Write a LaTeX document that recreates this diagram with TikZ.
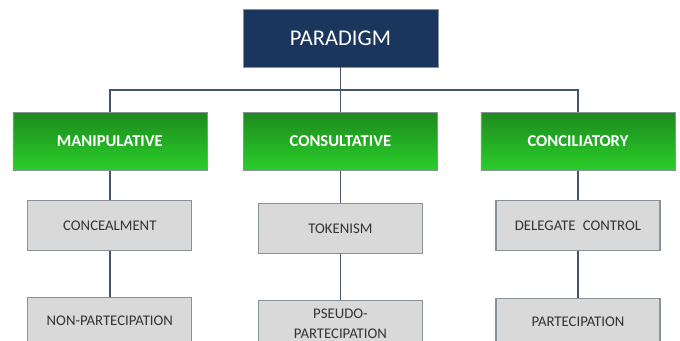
\documentclass[tikz,border=0pt]{standalone}
\usepackage{fontspec}
\setmainfont{Carlito}
\usepackage{tikz}
\usetikzlibrary{positioning, calc}
\usepackage{xcolor}

\definecolor{navy}{HTML}{1B365D}
\definecolor{leafgreen}{HTML}{1E8A1E}
\definecolor{lightgreen}{HTML}{2ACF2A}
\definecolor{boxgray}{HTML}{D9D9D9}
\definecolor{edgegray}{HTML}{8A9199}
\definecolor{linkblue}{HTML}{44546A}
\definecolor{textgray}{HTML}{333333}

\begin{document}
\begin{tikzpicture}[
    root/.style={draw=edgegray, rectangle, minimum width=4.875cm, minimum height=1.45cm, fill=navy, text=white, font=\fontsize{16}{19}\selectfont},
    branch/.style={draw=edgegray, rectangle, minimum width=4.85cm, minimum height=1.45cm, top color=leafgreen, bottom color=lightgreen, text=white, font=\fontsize{11.8}{14}\selectfont\bfseries},
    leaf/.style={draw=edgegray, thick, rectangle, minimum width=4.1cm, minimum height=1.25cm, text width=3.8cm, align=center, fill=boxgray, text=textgray, font=\fontsize{10.5}{14.5}\selectfont},
    lowleaf/.style={leaf, minimum height=1.15cm},
    link/.style={draw=linkblue, line width=1.2pt}
]

% Frame
\useasboundingbox (0,0) rectangle (17,-8.525);

% Paradigm
\node (paradigm) [root] at (8.51,-0.95) {PARADIGM};

% Branches
\node (consultative) [branch, below=1.125cm of paradigm] {CONSULTATIVE};
\node (manipulative) [branch, left=0.9cm of consultative] {MANIPULATIVE};
\node (conciliatory) [branch, right=1.075cm of consultative] {CONCILIATORY};

% First level
\node (concealment) [leaf, below=0.725cm of manipulative] {CONCEALMENT};
\node (tokenism) [leaf, below=0.8cm of consultative] {TOKENISM};
\node (delegate) [leaf, below=0.725cm of conciliatory] {DELEGATE\enspace CONTROL};

% Second level
\node (nonpart) [lowleaf, below=1.15cm of concealment] {NON-PARTECIPATION};
\node (pseudopart) [lowleaf, below=1.15cm of tokenism] {PSEUDO-\\PARTECIPATION};
\node (part) [lowleaf, below=1.175cm of delegate] {PARTECIPATION};

\draw [link] (paradigm.south) -- (consultative.north);
\draw [link] (paradigm.south) -- ++(0,-0.575) -| (manipulative.north);
\draw [link] (paradigm.south) -- ++(0,-0.575) -| (conciliatory.north);

\draw [link] (manipulative) -- (concealment);
\draw [link] (consultative) -- (tokenism);
\draw [link] (conciliatory) -- (delegate);

\draw [link] (concealment) -- (nonpart);
\draw [link] (tokenism) -- (pseudopart);
\draw [link] (delegate) -- (part);

\end{tikzpicture}
\end{document}
